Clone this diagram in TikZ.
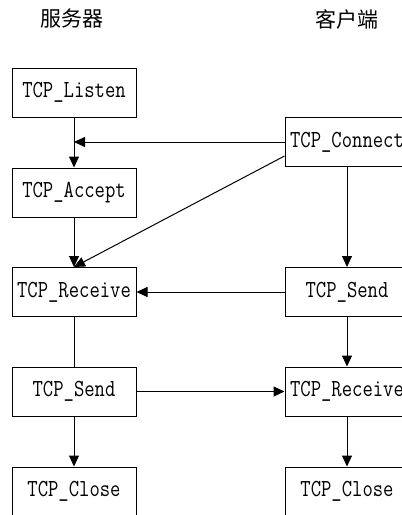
\documentclass[tikz,border=0pt]{standalone}
\usepackage{fontspec}
\newfontfamily\cjk{Noto Sans CJK SC}
\newfontfamily\codefont[FakeStretch=0.82]{Latin Modern Mono}
\usetikzlibrary{arrows.meta}
\tikzset{
  box/.style={draw, line width=1pt, minimum width=124pt, minimum height=49pt, inner sep=0pt,
    font=\codefont\fontsize{24.5pt}{24.5pt}\selectfont},
  head/.style={font=\cjk\fontsize{21pt}{21pt}\selectfont, inner sep=0pt},
  link/.style={line width=1pt, -{Triangle[length=11pt,width=10pt]}},
  plain/.style={line width=1pt},
}
\begin{document}
\begin{tikzpicture}[x=1pt,y=1pt]
\clip (0,0) rectangle (402,-515);
\fill[white] (0,0) rectangle (402,-515);
\node[head] (hs) at (72,-19) {服务器};
\node[head] (hc) at (347,-19) {客户端};
\node[box] (listen) at (74,-92.5) {TCP\_Listen};
\node[box] (accept) at (74,-192.5) {TCP\_Accept};
\node[box] (srecv) at (74,-292) {TCP\_Receive};
\node[box] (ssend) at (74,-391.5) {TCP\_Send};
\node[box] (sclose) at (74,-491.5) {TCP\_Close};
\node[box] (conn) at (347,-142) {TCP\_Connect};
\node[box] (csend) at (347,-292) {TCP\_Send};
\node[box] (crecv) at (347,-391.5) {TCP\_Receive};
\node[box] (cclose) at (347,-491.5) {TCP\_Close};
\draw[link] (listen) -- (accept);
\draw[link] (conn.west) -- (conn.west -| listen.south);
\draw[link] ([yshift=-14pt]conn.west) -- (srecv.north);
\draw[link] (accept) -- (srecv);
\draw[link] (conn) -- (csend);
\draw[link] (csend) -- (srecv);
\draw[plain] (srecv) -- (ssend);
\draw[link] (csend) -- (crecv);
\draw[link] (ssend) -- (crecv);
\draw[link] (ssend) -- (sclose);
\draw[link] (crecv) -- (cclose);
\end{tikzpicture}
\end{document}
